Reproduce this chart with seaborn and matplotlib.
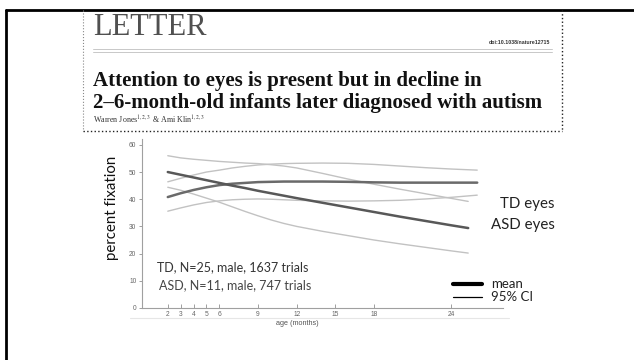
import numpy as np
import pandas as pd
import seaborn as sns
import matplotlib.pyplot as plt

# values (percent fixation on eyes, by age in months)
td_months = [2, 3, 4, 5, 6, 7, 8, 9, 10, 11, 12, 14, 16, 18, 20, 22, 24, 26]
td_mean = [40.8, 42.2, 43.4, 44.4, 45.2, 45.7, 46.0, 46.3, 46.4, 46.5, 46.5, 46.5, 46.4, 46.2, 46.1, 46.1, 46.1, 46.1]
td_upper = [46.4, 47.7, 48.9, 50.0, 50.7, 51.5, 52.1, 52.6, 52.9, 53.1, 53.2, 53.3, 53.2, 52.8, 52.2, 51.6, 51.1, 50.7]
td_lower = [35.6, 36.8, 37.9, 38.8, 39.4, 39.8, 40.0, 40.1, 40.0, 39.8, 39.6, 39.4, 39.3, 39.4, 39.6, 40.1, 40.7, 41.5]

asd_months = [2, 3, 4, 5, 6, 7, 8, 9, 10, 11, 12, 14, 16, 18, 20, 22, 24, 25.3]
asd_mean = [50.0, 49.0, 48.0, 47.0, 46.0, 45.0, 44.1, 43.1, 42.2, 41.3, 40.4, 38.7, 37.0, 35.3, 33.6, 32.0, 30.4, 29.4]
asd_upper = [56.0, 55.2, 54.7, 54.3, 53.9, 53.6, 53.3, 53.1, 52.7, 52.2, 51.5, 49.5, 47.4, 45.5, 43.7, 42.0, 40.3, 39.2]
asd_lower = [44.4, 43.3, 41.9, 40.4, 38.9, 37.2, 35.5, 33.9, 32.4, 31.1, 30.0, 28.2, 26.6, 25.0, 23.6, 22.3, 21.0, 20.2]

x_ticks = [2, 3, 4, 5, 6, 9, 12, 15, 18, 24]
y_ticks = [0, 10, 20, 30, 40, 50, 60]

sns.set_style("ticks")
plt.rcParams['font.family'] = ['Lato', 'DejaVu Sans']
plt.rcParams['mathtext.fontset'] = 'stix'

W, H = 634, 360
fig = plt.figure(figsize=(W / 100, H / 100), dpi=100)

# slide background layer, pixel coordinates
bg = fig.add_axes([0, 0, 1, 1])
bg.set_xlim(0, W)
bg.set_ylim(H, 0)
bg.axis('off')
bg.plot([6, 6], [10, H], color='black', lw=2)
bg.plot([6, W], [10, 10], color='black', lw=2)
bg.plot([83, 83], [10, 131], color='#888888', lw=0.8, ls=':')
bg.plot([562, 562], [10, 131], color='#222222', lw=1, ls=':')
bg.plot([83, 562], [131, 131], color='#222222', lw=1, ls=':')

# paper header
bg.text(93, 35, 'LETTER', family='Liberation Serif', fontsize=22, color='#505050', va='baseline')
bg.text(550, 43, 'doi:10.1038/nature12715', family='Liberation Sans', fontsize=3.8, weight='bold',
        color='#333333', ha='right', va='center')
bg.plot([93, 552], [48.5, 48.5], color='#c8c8c8', lw=0.7)
bg.plot([93, 552], [51.5, 51.5], color='#c8c8c8', lw=0.7)
bg.text(93, 86, 'Attention to eyes is present but in decline in', family='Liberation Serif',
        weight='bold', fontsize=15, color='#111111', va='baseline')
bg.text(93, 108, '2–6-month-old infants later diagnosed with autism', family='Liberation Serif',
        weight='bold', fontsize=15, color='#111111', va='baseline')
bg.text(93, 124, 'Warren Jones$^{1,2,3}$ & Ami Klin$^{1,2,3}$', family='Liberation Serif',
        fontsize=5.8, color='#333333', va='baseline')
bg.plot([130, 509], [318, 318], color='#e6e6e6', lw=0.8)

# chart
ax = fig.add_axes([142 / W, 1 - 308 / H, 361 / W, 168.6 / H])
ax.patch.set_alpha(0)

series = [
    (td_months, td_upper, 'ci'), (td_months, td_lower, 'ci'),
    (asd_months, asd_upper, 'ci'), (asd_months, asd_lower, 'ci'),
    (td_months, td_mean, 'td'), (asd_months, asd_mean, 'asd'),
]
styles = {'ci': ('#c2c2c2', 1.0), 'td': ('#6a6a6a', 1.8), 'asd': ('#585858', 1.8)}
for months, vals, kind in series:
    df = pd.DataFrame({'month': months, 'value': vals})
    color, lw = styles[kind]
    sns.lineplot(data=df, x='month', y='value', ax=ax, color=color, lw=lw, legend=False)

ax.set_xlim(0, 28)
ax.set_ylim(0, 62)
ax.set_xticks(x_ticks)
ax.set_yticks(y_ticks)
sns.despine(ax=ax)
for s in ['left', 'bottom']:
    ax.spines[s].set_color('#a0a0a0')
    ax.spines[s].set_linewidth(0.8)
ax.tick_params(axis='x', direction='in', length=3, width=0.7, color='#a0a0a0', pad=2.5,
               labelsize=4.8, labelcolor='#666666')
ax.tick_params(axis='y', direction='out', length=2.5, width=0.7, color='#a0a0a0', pad=1.5,
               labelsize=4.8, labelcolor='#666666')
for lab in ax.get_xticklabels() + ax.get_yticklabels():
    lab.set_family('Liberation Sans')

ax.set_xlabel('age (months)', fontsize=5.2, color='#555555', family='Liberation Sans', va='top')
ax.xaxis.set_label_coords((297 - 142) / 361, (308 - 320) / 168.6)
ax.set_ylabel('percent fixation', fontsize=10.8, color='#111111', va='center')
ax.yaxis.set_label_coords((112 - 142) / 361, (308 - 208) / 168.6)

# slide annotations
bg.text(157, 267, 'TD, N=25, male, 1637 trials', fontsize=9, color='#333333', va='center')
bg.text(159, 285, 'ASD, N=11, male, 747 trials', fontsize=9, color='#444444', va='center')
bg.text(555, 204, 'TD eyes', fontsize=10.8, color='#222222', ha='right', va='center')
bg.text(555, 225, 'ASD eyes', fontsize=10.8, color='#222222', ha='right', va='center')
bg.plot([453, 482], [284, 284], color='black', lw=3)
bg.plot([453, 482], [297, 297], color='black', lw=0.9)
bg.text(491, 284, 'mean', fontsize=9.5, color='#222222', va='center')
bg.text(491, 297, '95% CI', fontsize=9.5, color='#222222', va='center')

fig.savefig('out.png', dpi=100)
